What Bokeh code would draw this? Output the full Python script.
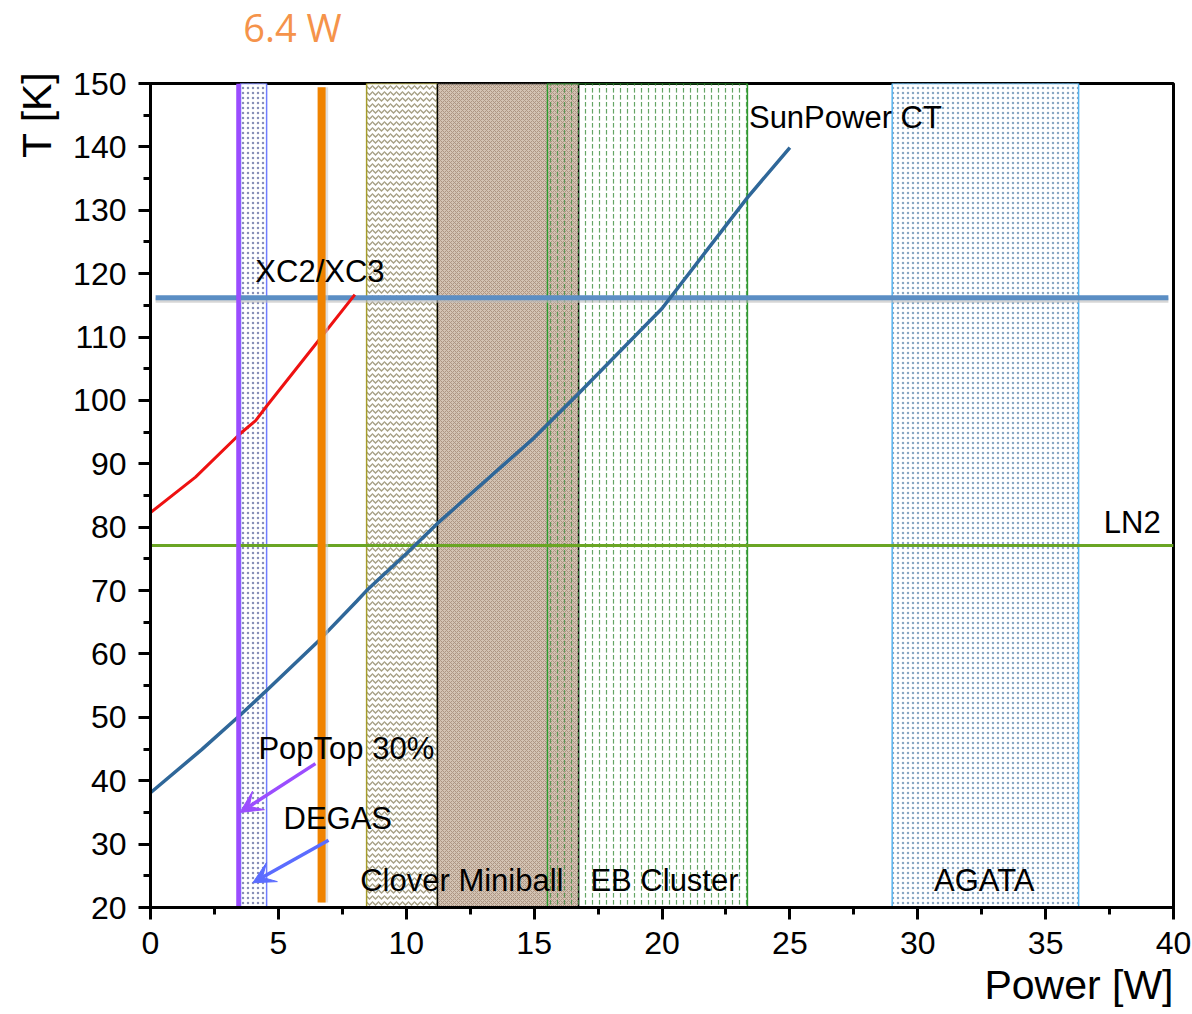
from bokeh.plotting import figure
from bokeh.embed import file_html
from bokeh.resources import INLINE
from bokeh.layouts import column
from bokeh.models import (Label, Arrow, VeeHead, Range1d, SingleIntervalTicker, Title)

# ---- data ----
red_x = [0, 1.76, 3.49, 4.11, 4.56, 6.58, 7.99]
red_t = [82.3, 87.9, 94.7, 96.8, 99.2, 109.5, 116.7]

sun_x = [0, 2, 3.49, 4.56, 6.58, 8.08, 8.45, 10, 11.22, 15, 16.74, 20, 23.34, 25]
sun_t = [38.1, 44.9, 50.3, 54.3, 62.1, 68.4, 70.0, 75.8, 80.6, 94.1, 101.1, 114.5, 132.0, 139.9]

band_names = ["DEGAS", "Clover", "Miniball", "EB Cluster", "AGATA"]
band_left = [3.52, 8.45, 11.22, 15.52, 29.0]
band_right = [4.54, 11.22, 16.74, 23.34, 36.29]

poptop_x = 3.44
orange_x = 6.69
orange_t = [20.8, 149.4]
xc_t = 116.2
xc_x = [0.2, 39.8]
ln2_t = 77.1

x_range = (0, 40)
t_range = (20, 150)

FONT = "Liberation Sans"
xr = Range1d(*x_range)

# ---- top strip holding the "6.4 W" note ----
TOP_H = 60
top = figure(frame_width=1023, frame_height=TOP_H, width=1192, height=TOP_H,
             min_border_left=150, min_border_right=19, min_border_top=0,
             min_border_bottom=0, output_backend="svg", toolbar_location=None,
             x_range=xr, y_range=Range1d(0, TOP_H))
top.axis.visible = False
top.grid.visible = False
top.outline_line_color = None
top.add_layout(Label(x=5.55, y=TOP_H - 26, text="6.4 W", text_font="Open Sans",
                     text_font_size="38px", text_color="#f5934a",
                     text_align="center", text_baseline="middle"))

# ---- main figure ----
p = figure(frame_width=1023, frame_height=824, width=1192, height=1014 - TOP_H,
           min_border_left=150, min_border_right=19, min_border_top=83 - TOP_H,
           min_border_bottom=107, output_backend="svg", toolbar_location=None,
           x_range=xr, y_range=Range1d(*t_range))
p.grid.visible = False
p.outline_line_color = "black"
p.outline_line_width = 3
p.background_fill_color = "white"
p.border_fill_color = "white"

for ax, interval in ((p.xaxis[0], 5), (p.yaxis[0], 10)):
    ax.ticker = SingleIntervalTicker(interval=interval, num_minor_ticks=2)
    ax.axis_line_width = 3
    ax.major_tick_line_width = 3
    ax.minor_tick_line_width = 3
    ax.major_tick_in = 0
    ax.major_tick_out = 12
    ax.minor_tick_in = 0
    ax.minor_tick_out = 7
    ax.major_label_text_font = FONT
    ax.major_label_text_font_size = "32px"
    ax.major_label_text_color = "black"
    ax.major_label_standoff = 12

# ---- bands ----
styles = {
    "DEGAS": dict(fill_color="white", line_color="#6f7cff", line_width=1.5,
                  hatch_pattern=".", hatch_color="#8890b8", hatch_scale=5, hatch_weight=1.2),
    "Clover": dict(fill_color="white", line_color="#a59c2a", line_width=1.5,
                   hatch_pattern="v", hatch_color="#a6a084", hatch_scale=6, hatch_weight=1.4),
    "Miniball": dict(fill_color="#d3c3b3", line_color="black", line_width=1.5,
                     hatch_pattern="x", hatch_color="#ad9583", hatch_scale=4, hatch_weight=1),
    "EB Cluster": dict(fill_color=None, line_color="#2d9a2d", line_width=1.5,
                       hatch_pattern=":", hatch_color="#3f8f3f", hatch_scale=7, hatch_weight=1.2,
                       hatch_alpha=0.8),
    "AGATA": dict(fill_color="white", line_color="#56b4f0", line_width=1.5,
                  hatch_pattern=".", hatch_color="#8aa8c4", hatch_scale=5, hatch_weight=1.3),
}
for name, l, r in zip(band_names, band_left, band_right):
    p.quad(left=[l], right=[r], bottom=[t_range[0]], top=[t_range[1]], **styles[name])

# ---- horizontal reference lines ----
p.line(xc_x, [xc_t - 0.4, xc_t - 0.4], line_color="#bbbbbb", line_width=5, line_alpha=0.6)
p.line(xc_x, [xc_t, xc_t], line_color="#5b8ec4", line_width=5)
p.line(list(x_range), [ln2_t, ln2_t], line_color="#6aa524", line_width=3)

# ---- curves ----
p.line(red_x, red_t, line_color="#ee1111", line_width=3)
p.line(sun_x, sun_t, line_color="#2f6799", line_width=3.5)

# ---- vertical lines ----
p.line([poptop_x, poptop_x], list(t_range), line_color="#9b4dff", line_width=4.5)
p.line([orange_x + 0.1, orange_x + 0.1], orange_t, line_color="#cccccc", line_width=8, line_alpha=0.6)
p.line([orange_x, orange_x], orange_t, line_color="#f08300", line_width=8)

# ---- arrows ----
p.add_layout(Arrow(x_start=6.45, y_start=42.7, x_end=3.5, y_end=35.0,
                   line_color="#9b4dff", line_width=3.5,
                   end=VeeHead(size=22, fill_color="#9b4dff", line_color="#9b4dff")))
p.add_layout(Arrow(x_start=6.96, y_start=30.6, x_end=4.0, y_end=23.9,
                   line_color="#5b6cff", line_width=3.5,
                   end=VeeHead(size=22, fill_color="#5b6cff", line_color="#5b6cff")))

# ---- texts ----
def lab(x, y, text, size="31px", align="left", color="black", font=FONT):
    p.add_layout(Label(x=x, y=y, text=text, text_font=font, text_font_size=size,
                       text_color=color, text_align=align, text_baseline="middle"))

lab(4.1, 120.3, "XC2/XC3")
lab(23.4, 144.6, "SunPower CT")
lab(39.5, 80.7, "LN2", align="right")
lab(4.22, 45.1, "PopTop 30%")
lab(5.2, 34.0, "DEGAS")
lab(8.2, 24.3, "Clover Miniball")
lab(17.2, 24.3, "EB Cluster")
lab(32.6, 24.3, "AGATA", align="center")

p.add_layout(Title(text="Power [W]", text_font=FONT, text_font_size="41px",
                   text_color="black", text_font_style="normal", align="right",
                   standoff=7), "below")
p.add_layout(Title(text="T [K]", text_font=FONT, text_font_size="41px",
                   text_color="black", text_font_style="normal", align="right",
                   standoff=22, offset=-12), "left")

open("out.html", "w").write(file_html(column(top, p, spacing=0), INLINE))
